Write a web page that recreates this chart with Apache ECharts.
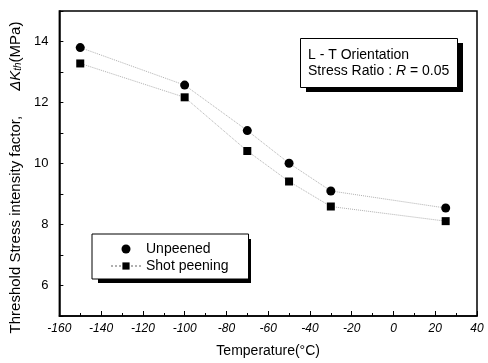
<!DOCTYPE html>
<html><head><meta charset="utf-8">
<script src="https://cdn.jsdelivr.net/npm/echarts@6/dist/echarts.min.js"></script>
<style>html,body{margin:0;padding:0;background:#fff}#c{width:488px;height:363px}</style>
</head><body><div id="c"></div>
<script>
var temperatures = [-150, -100, -70, -50, -30, 25];
var unpeened = [13.8, 12.57, 11.08, 10.01, 9.1, 8.54];
var shotPeening = [13.28, 12.17, 10.41, 9.41, 8.59, 8.11];
var seriesNames = ['Unpeened', 'Shot peening'];
var xTicks = {min: -160, max: 40, interval: 20};
var yTicks = {min: 5, max: 15, interval: 1};

var FONT = "'Liberation Sans', Arial, sans-serif";
function pairs(xs, ys) { return xs.map(function (x, i) { return [x, ys[i]]; }); }

var chart = echarts.init(document.getElementById('c'), null, {renderer: 'canvas'});
chart.setOption({
  backgroundColor: '#fff',
  animation: false,
  grid: {left: 58, right: 11, top: 11, bottom: 45, show: true, borderColor: '#000', borderWidth: 1.5, backgroundColor: 'transparent'},
  graphic: [
    // drop shadow of the note box
    {type: 'rect', left: 306, top: 43, z: 10, silent: true, shape: {width: 157, height: 49}, style: {fill: '#000'}},
    {type: 'rect', left: 300, top: 38, z: 11, silent: true, shape: {width: 157, height: 49}, style: {fill: '#fff', stroke: '#000', lineWidth: 1}},
    {type: 'text', left: 308, top: 48, z: 12, silent: true, style: {
      text: '{a|L - T Orientation}\n{a|Stress Ratio : }{i|R}{a| = 0.05}',
      rich: {
        a: {fontFamily: FONT, fontSize: 14, fill: '#000', lineHeight: 16},
        i: {fontFamily: FONT, fontSize: 14, fill: '#000', fontStyle: 'italic', lineHeight: 16}
      }
    }},
    // drop shadow of the legend box
    {type: 'rect', left: 98, top: 239, z: 3, silent: true, shape: {width: 153, height: 44}, style: {fill: '#000'}}
  ],
  legend: {
    orient: 'vertical', left: 92, top: 234, z: 6,
    backgroundColor: '#fff', borderColor: '#000', borderWidth: 1,
    padding: [8, 20, 6, 18],
    itemWidth: 30, itemHeight: 9, itemGap: 3,
    textStyle: {fontFamily: FONT, fontSize: 14, color: '#000'},
    data: [{name: seriesNames[0], icon: 'circle'}, {name: seriesNames[1]}]
  },
  xAxis: {
    type: 'value', min: xTicks.min, max: xTicks.max, interval: xTicks.interval,
    name: 'Temperature(°C)', nameLocation: 'middle', nameGap: 28,
    nameTextStyle: {fontFamily: FONT, fontSize: 14, color: '#000'},
    axisLine: {show: true, onZero: false, lineStyle: {color: '#000', width: 1.5}},
    axisTick: {show: true, inside: true, length: 5, lineStyle: {color: '#000', width: 1}},
    minorTick: {show: true, splitNumber: 2, length: 3, lineStyle: {color: '#000', width: 1}},
    axisLabel: {margin: 7, fontFamily: FONT, fontSize: 12, fontStyle: 'italic', color: '#000'},
    splitLine: {show: false}
  },
  yAxis: {
    type: 'value', min: yTicks.min, max: yTicks.max, interval: yTicks.interval,
    name: '{n|Threshold Stress intensity factor,      }{i|ΔK}{s|th}{n|(MPa)}{e|}',
    nameLocation: 'middle', nameGap: 26,
    nameTextStyle: {
      rich: {
        n: {fontFamily: FONT, fontSize: 15, color: '#000'},
        i: {fontFamily: FONT, fontSize: 15, color: '#000', fontStyle: 'italic'},
        s: {fontFamily: FONT, fontSize: 10, color: '#000', fontStyle: 'italic', verticalAlign: 'bottom'},
        e: {width: 28}
      }
    },
    axisLine: {show: true, onZero: false, lineStyle: {color: '#000', width: 1.5}},
    axisTick: {show: true, inside: true, length: 4, lineStyle: {color: '#000', width: 1}},
    axisLabel: {
      margin: 11, fontFamily: FONT, fontSize: 13, color: '#000',
      formatter: function (v) { return (v % 2 === 0) ? String(v) : ''; }
    },
    splitLine: {show: false}
  },
  series: [
    {
      name: seriesNames[0], type: 'line', data: pairs(temperatures, unpeened),
      symbol: 'circle', symbolSize: 9,
      itemStyle: {color: '#000'},
      lineStyle: {color: '#b0b0b0', width: 1, type: 'dotted'}
    },
    {
      name: seriesNames[1], type: 'line', data: pairs(temperatures, shotPeening),
      symbol: 'rect', symbolSize: 8,
      itemStyle: {color: '#000'},
      lineStyle: {color: '#b0b0b0', width: 1, type: 'dotted'}
    }
  ]
});
</script>
</body></html>
